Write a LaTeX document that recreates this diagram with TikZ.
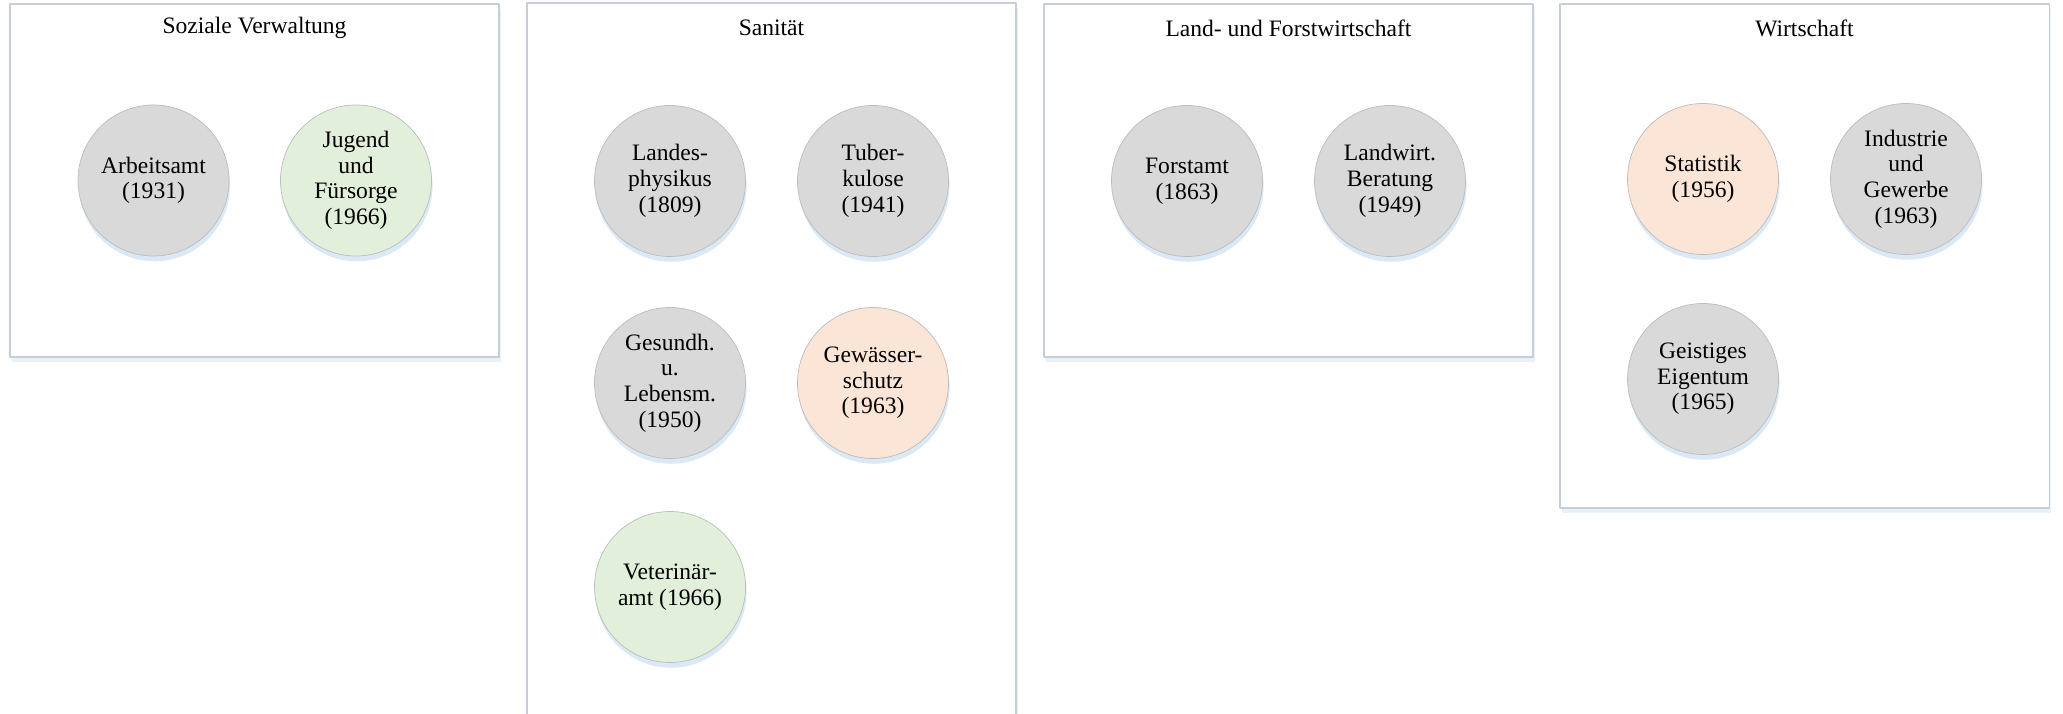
\documentclass[tikz,border=0pt]{standalone}
\usepackage{fontspec}
\setmainfont{Liberation Serif}
\usetikzlibrary{shadows}

\definecolor{boxline}{HTML}{C8CED8}
\definecolor{ringline}{HTML}{BDBDBD}
\definecolor{grau}{HTML}{D9D9D9}
\definecolor{gruen}{HTML}{E2EFDA}
\definecolor{apricot}{HTML}{FBE5D6}
\definecolor{glow}{HTML}{D3E3F3}

\tikzset{
  amt/.style={circle,draw=ringline,line width=0.4pt,minimum size=3.02cm,inner sep=0pt,align=center,
    font=\fontsize{13.4}{14.6}\selectfont,
    drop shadow={shadow xshift=0.6pt,shadow yshift=-3pt,fill=glow,opacity=0.8}},
  bereich/.style={draw=boxline,line width=0.6pt,fill=white,
    drop shadow={shadow xshift=1pt,shadow yshift=-3pt,fill=glow,opacity=0.5}},
  titel/.style={font=\fontsize{13.4}{14.6}\selectfont}
}

\begin{document}
\begin{tikzpicture}[line cap=round,line join=round,x=1.0cm,y=1.0cm]
\useasboundingbox (0,0) rectangle (41.26,14.26);
\fill[white] (0,0) rectangle (41.26,14.26);
% Bereiche
\draw[bereich] (0.2,7.12) rectangle (9.98,14.18);
\draw[bereich] (10.54,-0.5) rectangle (20.32,14.2);
\draw[bereich] (20.88,7.12) rectangle (30.66,14.18);
\draw[bereich] (31.2,4.1) rectangle (40.98,14.18);
\node[titel] (soziales) at (5.09,13.70) {Soziale Verwaltung};
\node[titel] (sanitaet) at (15.43,13.70) {Sanität};
\node[titel] (landforst) at (25.77,13.70) {Land- und Forstwirtschaft};
\node[titel] (wirtschaft) at (36.09,13.70) {Wirtschaft};
% Soziale Verwaltung
\node[amt,fill=grau] (arbeitsamt) at (3.07,10.65) {Arbeitsamt\\(1931)};
\node[amt,fill=gruen] (jugend) at (7.12,10.65) {Jugend\\und\\Fürsorge\\(1966)};
% Sanitaet
\node[amt,fill=grau] (physikus) at (13.40,10.64) {Landes-\\physikus\\(1809)};
\node[amt,fill=grau] (tuberkulose) at (17.46,10.64) {Tuber-\\kulose\\(1941)};
\node[amt,fill=grau] (gesundheit) at (13.40,6.6) {Gesundh.\\u.\\Lebensm.\\(1950)};
\node[amt,fill=apricot] (gewaesser) at (17.46,6.6) {Gewässer-\\schutz\\(1963)};
\node[amt,fill=gruen] (veterinaer) at (13.40,2.52) {Veterinär-\\amt (1966)};
% Land- und Forstwirtschaft
\node[amt,fill=grau] (forstamt) at (23.74,10.64) {Forstamt\\(1863)};
\node[amt,fill=grau] (landwirt) at (27.80,10.64) {Landwirt.\\Beratung\\(1949)};
% Wirtschaft
\node[amt,fill=apricot] (statistik) at (34.06,10.68) {Statistik\\(1956)};
\node[amt,fill=grau] (industrie) at (38.12,10.68) {Industrie\\und\\Gewerbe\\(1963)};
\node[amt,fill=grau] (eigentum) at (34.06,6.68) {Geistiges\\Eigentum\\(1965)};
\end{tikzpicture}
\end{document}
